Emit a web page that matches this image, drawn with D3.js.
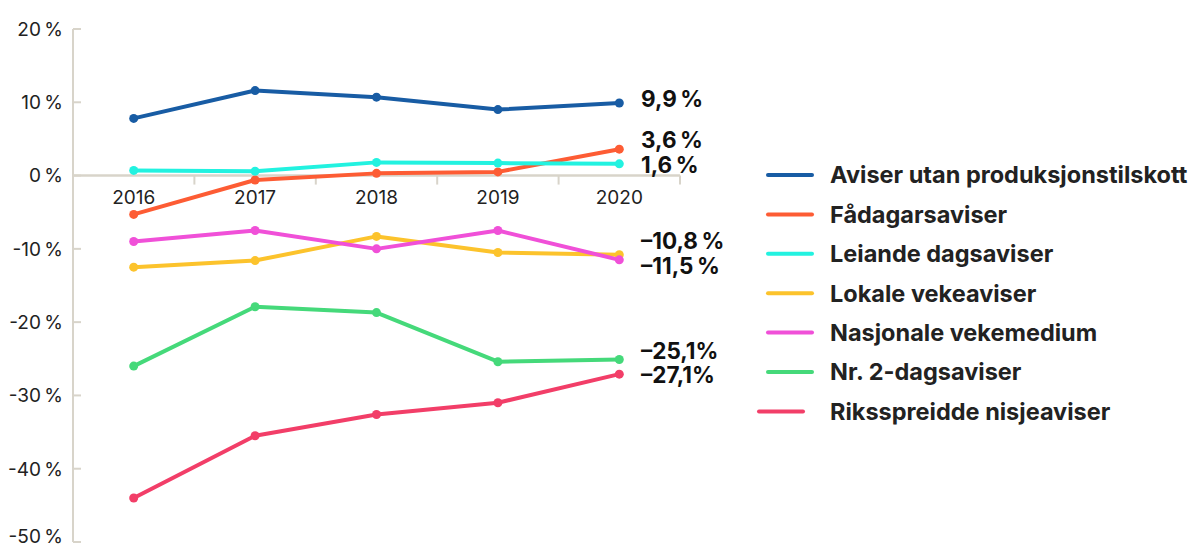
<!DOCTYPE html>
<html>
<head>
<meta charset="utf-8">
<script src="https://cdn.jsdelivr.net/npm/d3@7"></script>
<style>
  body { margin: 0; background: #fff; }
  svg { display: block; font-family: Inter, "Noto Sans", sans-serif; }
  .tick-label { font-size: 19px; fill: #222; }
  .end-label { font-size: 22.5px; font-weight: 700; fill: #111; }
  .legend-label { font-size: 23.5px; font-weight: 700; fill: #222; }
</style>
</head>
<body>
<script>
var width = 1197;
var height = 548;

var years = ["2016", "2017", "2018", "2019", "2020"];
var yTicks = [20, 10, 0, -10, -20, -30, -40, -50];

var seriesNames = [
  "Aviser utan produksjonstilskott",
  "Fådagarsaviser",
  "Leiande dagsaviser",
  "Lokale vekeaviser",
  "Nasjonale vekemedium",
  "Nr. 2-dagsaviser",
  "Riksspreidde nisjeaviser"
];
var seriesColors = ["#185ca4", "#fd5c34", "#22f2e0", "#fcc32c", "#f050d8", "#45d97a", "#f23e68"];

var aviserUtan   = [7.8, 11.6, 10.7, 9.0, 9.9];
var faadagars    = [-5.3, -0.6, 0.3, 0.5, 3.6];
var leiande      = [0.7, 0.6, 1.8, 1.7, 1.6];
var lokaleVeke   = [-12.5, -11.6, -8.3, -10.5, -10.8];
var nasjonale    = [-9.0, -7.5, -10.0, -7.5, -11.5];
var nr2          = [-26.0, -17.9, -18.7, -25.4, -25.1];
var riksspreidde = [-44.0, -35.5, -32.6, -31.0, -27.1];

var endLabels = ["9,9\u2009%", "3,6\u2009%", "1,6\u2009%", "\u201310,8\u2009%", "\u201311,5\u2009%", "\u201325,1%", "\u201327,1%"];

var allValues = [aviserUtan, faadagars, leiande, lokaleVeke, nasjonale, nr2, riksspreidde];
var series = seriesNames.map(function(n, i) {
  return { name: n, color: seriesColors[i], values: allValues[i], label: endLabels[i] };
});

var svg = d3.select("body").append("svg")
    .attr("width", width)
    .attr("height", height);

var axisColor = "#d8d4ca";

var x = d3.scaleBand()
    .domain(years)
    .range([73, 680]);

var y = d3.scaleLinear()
    .domain([-50, 20])
    .range([542, 29]);

function cx(year) { return x(year) + x.bandwidth() / 2; }

// y axis
svg.append("line")
    .attr("x1", 73).attr("x2", 73)
    .attr("y1", y(20)).attr("y2", y(-50))
    .attr("stroke", axisColor).attr("stroke-width", 2);

yTicks.forEach(function(t) {
  svg.append("line")
      .attr("x1", 73).attr("x2", 81)
      .attr("y1", y(t)).attr("y2", y(t))
      .attr("stroke", axisColor).attr("stroke-width", 2);
  svg.append("text")
      .attr("class", "tick-label")
      .attr("x", 63)
      .attr("y", Math.min(y(t), 536))
      .attr("dy", "0.36em")
      .attr("text-anchor", "end")
      .text(t + "\u2009%");
});

// x axis at zero
svg.append("line")
    .attr("x1", 73).attr("x2", 680)
    .attr("y1", y(0)).attr("y2", y(0))
    .attr("stroke", axisColor).attr("stroke-width", 2.5);

years.forEach(function(yr) {
  var edge = x(yr) + x.bandwidth();
  svg.append("line")
      .attr("x1", edge).attr("x2", edge)
      .attr("y1", y(0)).attr("y2", y(0) + 9)
      .attr("stroke", axisColor).attr("stroke-width", 2);
  svg.append("text")
      .attr("class", "tick-label")
      .attr("x", cx(yr))
      .attr("y", y(0) + 22)
      .attr("dy", "0.36em")
      .attr("text-anchor", "middle")
      .text(yr);
});

// lines
var line = d3.line()
    .x(function(d, i) { return cx(years[i]); })
    .y(function(d) { return y(d); });

series.forEach(function(s) {
  var g = svg.append("g");
  g.append("path")
      .datum(s.values)
      .attr("d", line)
      .attr("fill", "none")
      .attr("stroke", s.color)
      .attr("stroke-width", 4)
      .attr("stroke-linejoin", "round");
  g.selectAll("circle")
      .data(s.values)
      .enter().append("circle")
      .attr("cx", function(d, i) { return cx(years[i]); })
      .attr("cy", function(d) { return y(d); })
      .attr("r", 4.5)
      .attr("fill", s.color);
});

// end labels, nudged apart where they would overlap
var labs = series.map(function(s) {
  return { text: s.label, ty: y(s.values[s.values.length - 1]) - 4 };
}).sort(function(a, b) { return a.ty - b.ty; });
var gap = 24.5;
for (var iter = 0; iter < 20; iter++) {
  for (var k = 1; k < labs.length; k++) {
    var d = labs[k].ty - labs[k - 1].ty;
    if (d < gap) {
      var shift = (gap - d) / 2;
      labs[k - 1].ty -= shift;
      labs[k].ty += shift;
    }
  }
}
labs.forEach(function(l) {
  svg.append("text")
      .attr("class", "end-label")
      .attr("x", 641)
      .attr("y", l.ty)
      .attr("dy", "0.36em")
      .text(l.text);
});

// legend
var legend = svg.append("g");
series.forEach(function(s, i) {
  var ly = 175 + i * 39.4;
  var x0 = i === series.length - 1 ? 759 : 768;
  legend.append("line")
      .attr("x1", x0).attr("x2", x0 + 44)
      .attr("y1", ly).attr("y2", ly)
      .attr("stroke", s.color)
      .attr("stroke-width", 4)
      .attr("stroke-linecap", "round");
  legend.append("text")
      .attr("class", "legend-label")
      .attr("x", 830)
      .attr("y", ly)
      .attr("dy", "0.36em")
      .text(s.name);
});
</script>
</body>
</html>
